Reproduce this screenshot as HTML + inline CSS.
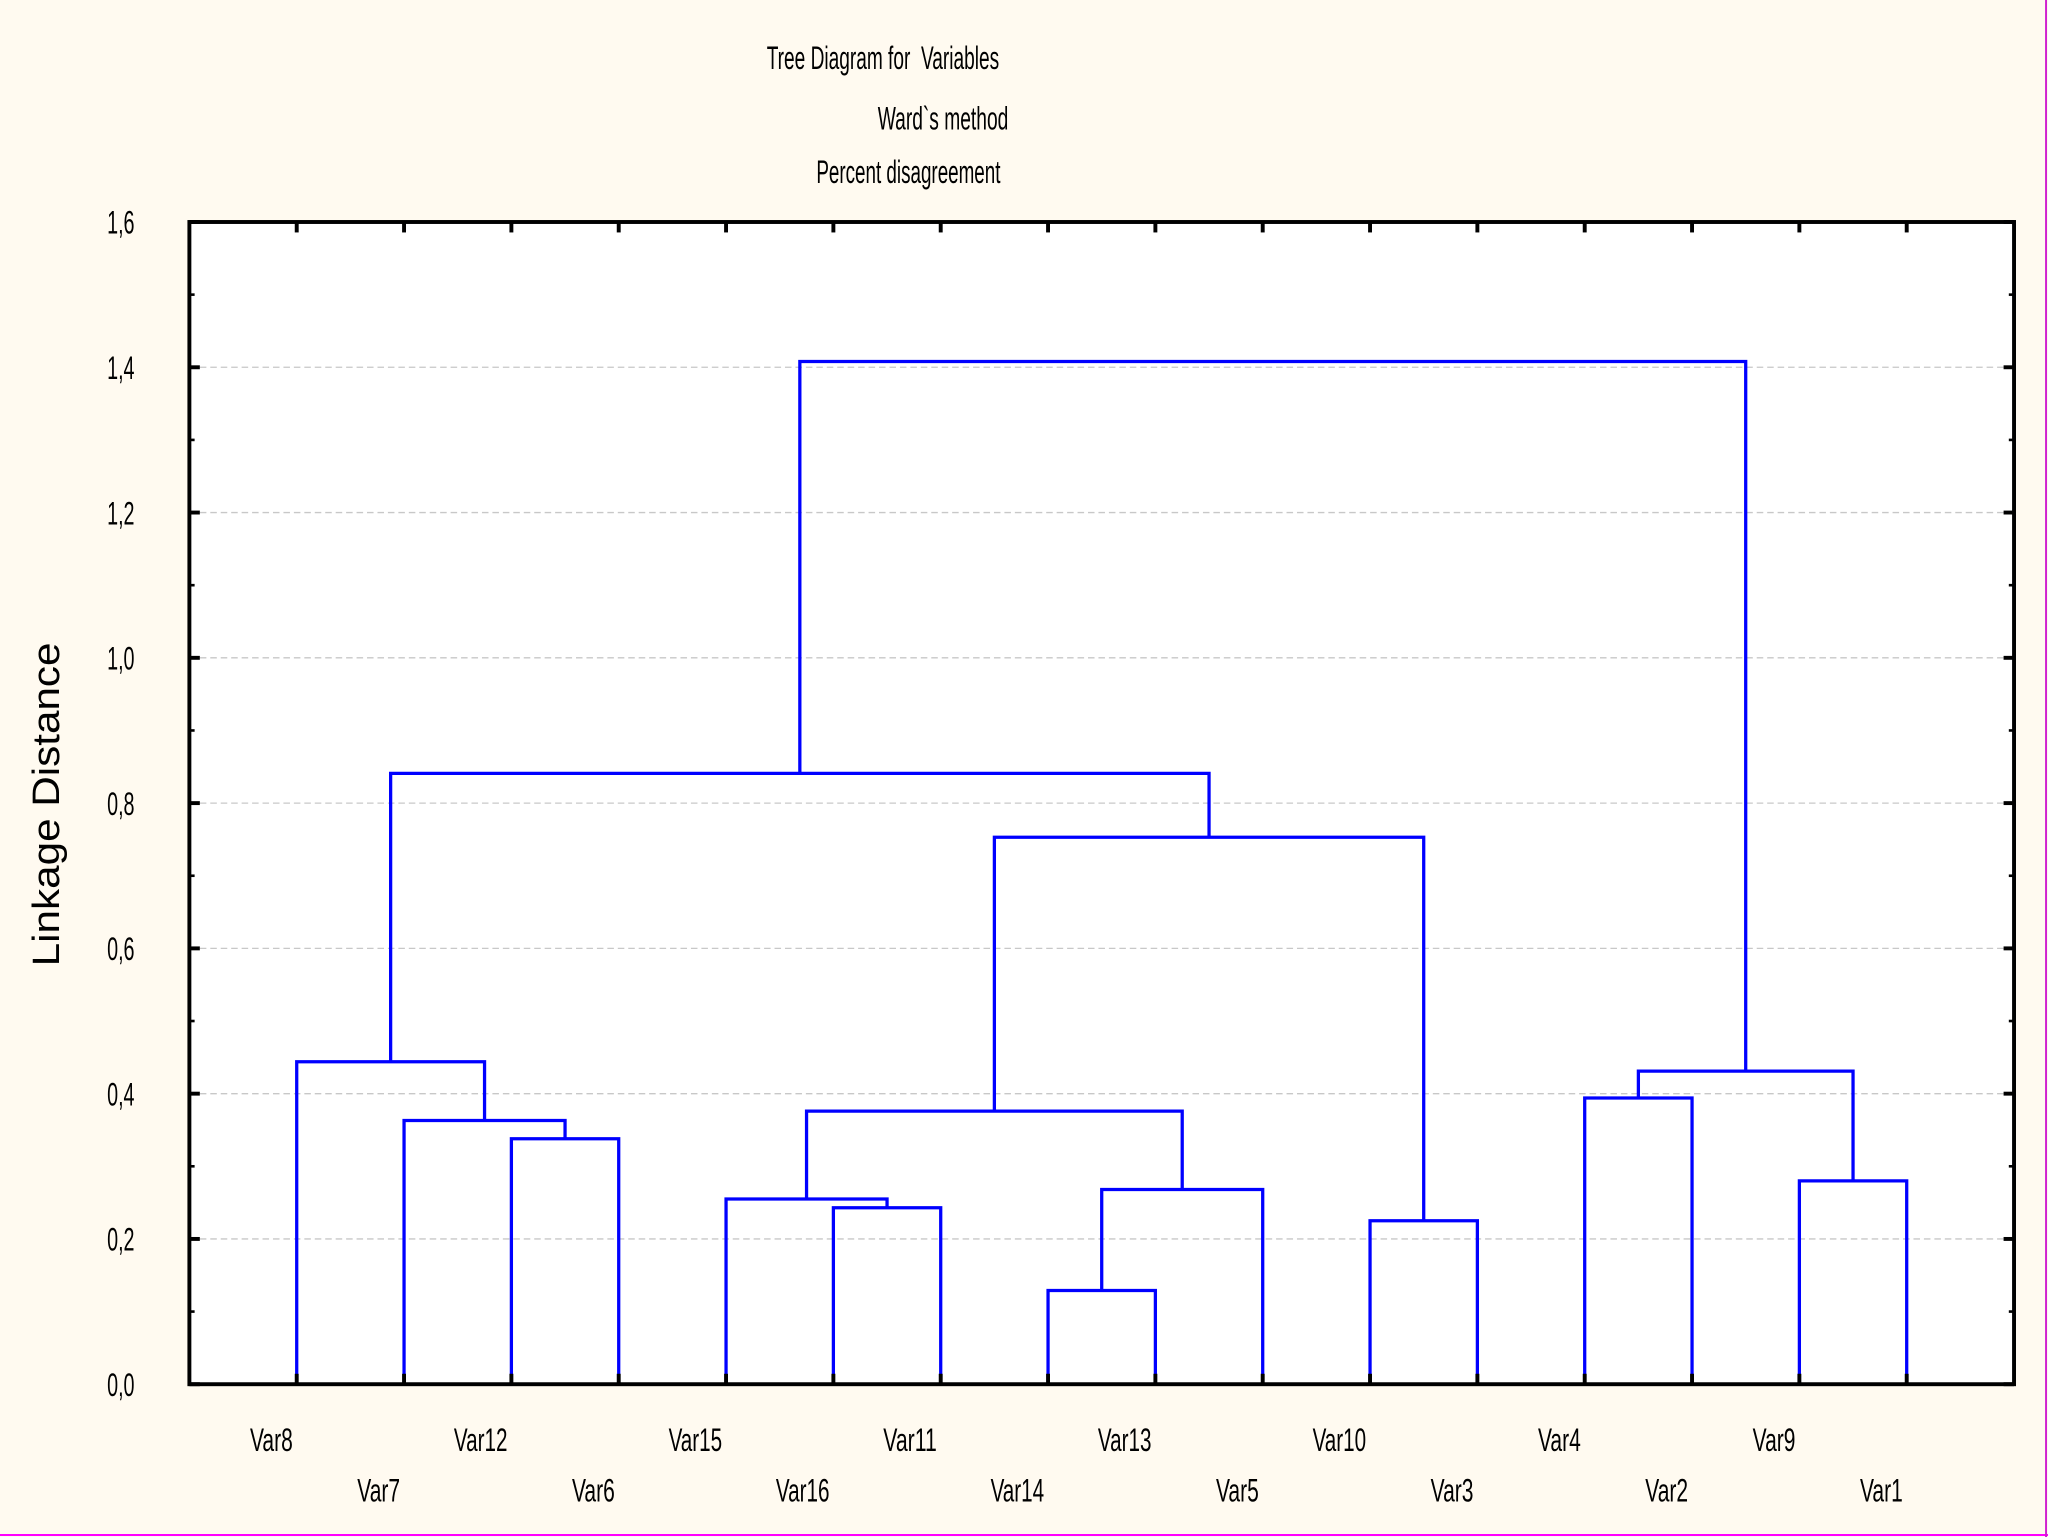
<!DOCTYPE html>
<html><head><meta charset="utf-8"><title>Tree Diagram for Variables</title>
<style>
html,body{margin:0;padding:0;background:#fffaf0;}
svg{display:block;}
text{font-family:"Liberation Sans",sans-serif;fill:#000;}
</style></head>
<body>
<svg id="chart" width="2048" height="1537" viewBox="0 0 1568 1177" preserveAspectRatio="none" xmlns="http://www.w3.org/2000/svg">
  <rect x="0" y="0" width="1568" height="1177" fill="#fffaf0"/>
  <line x1="0" y1="1175.5" x2="1568" y2="1175.5" stroke="#ff00ff" stroke-width="1.5"/>
  <line x1="1566.5" y1="0" x2="1566.5" y2="1177" stroke="#d020d0" stroke-width="1.5"/>
  <g>
    <text x="587" y="53" font-size="25" textLength="178" lengthAdjust="spacingAndGlyphs">Tree Diagram for&#160; Variables</text>
    <text x="672" y="99" font-size="25" textLength="100" lengthAdjust="spacingAndGlyphs">Ward`s method</text>
    <text x="625" y="140" font-size="25" textLength="141" lengthAdjust="spacingAndGlyphs">Percent disagreement</text>
  </g>
  <rect x="145" y="170" width="1397" height="890" fill="#ffffff"/>
  <g id="grid"></g>
  <g id="tree"></g>
  <rect x="145" y="170" width="1397" height="890" fill="none" stroke="#000" stroke-width="3"/>
  <g id="ticks"></g>
  <g id="ylabels"></g>
  <g id="xlabels"></g>
  <text transform="translate(45,616) rotate(-90)" text-anchor="middle" font-size="29" textLength="248" lengthAdjust="spacingAndGlyphs">Linkage Distance</text>
</svg>
<script>
// Data
const leaves = ["Var8","Var7","Var12","Var6","Var15","Var16","Var11","Var14","Var13","Var5","Var10","Var3","Var4","Var2","Var9","Var1"];
// merges: cluster ids — leaf index (0..15) or 16+merge index
const mergeLeft  = [7, 10, 5, 4, 16, 14, 2, 1, 19, 12, 25, 0, 24, 27, 29];
const mergeRight = [8, 11, 6, 18, 9, 15, 3, 22, 20, 13, 21, 23, 17, 28, 26];
const mergeHeight = [0.129, 0.225, 0.243, 0.255, 0.268, 0.280, 0.338, 0.363, 0.376, 0.394, 0.431, 0.444, 0.753, 0.841, 1.408];
const yTicks = [0,0.2,0.4,0.6,0.8,1.0,1.2,1.4,1.6];
const yTickLabels = ["0,0","0,2","0,4","0,6","0,8","1,0","1,2","1,4","1,6"];
</script>
<script>
(function(){
const NS="http://www.w3.org/2000/svg";
const L=145,R=1542,T=170,B=1060,yMax=1.6;
const xScale=i=>L+(i+1)*(R-L)/(leaves.length+1);
const yScale=v=>B-v/yMax*(B-T);
function mk(tag,attrs,parent){const e=document.createElementNS(NS,tag);for(const k in attrs)e.setAttribute(k,attrs[k]);parent.appendChild(e);return e;}
const grid=document.getElementById('grid'),tree=document.getElementById('tree'),ticks=document.getElementById('ticks'),yl=document.getElementById('ylabels'),xl=document.getElementById('xlabels');
yTicks.forEach((v,i)=>{
  const y=yScale(v);
  if(v>0&&v<yMax){
    const g=mk('line',{x1:L,x2:R,y1:y,y2:y,stroke:'#c8c8c8','stroke-width':1,'stroke-dasharray':'5,3'},grid);
    
    
  }
  const t1=mk('line',{x1:L,x2:L+8,y1:y,y2:y,stroke:'#000','stroke-width':3},ticks);
  
  
  const t2=mk('line',{x1:R-8,x2:R,y1:y,y2:y,stroke:'#000','stroke-width':3},ticks);
  
  
  if(i<yTicks.length-1){
    const ym=yScale(v+0.1);
    const m1=mk('line',{x1:L,x2:L+4,y1:ym,y2:ym,stroke:'#000','stroke-width':2},ticks);
    
    
    const m2=mk('line',{x1:R-4,x2:R,y1:ym,y2:ym,stroke:'#000','stroke-width':2},ticks);
    
    
  }
  const tx=mk('text',{x:103,y:y+9,'text-anchor':'end','font-size':25,textLength:21,lengthAdjust:'spacingAndGlyphs'},yl);
  tx.textContent=yTickLabels[i];
  
  
});
const pos=[],hgt=[];
leaves.forEach((n,i)=>{pos[i]=xScale(i);hgt[i]=0;
  const tb=mk('line',{x1:pos[i],x2:pos[i],y1:B-8,y2:B,stroke:'#000','stroke-width':3},ticks);
  
  
  const tt=mk('line',{x1:pos[i],x2:pos[i],y1:T,y2:T+8,stroke:'#000','stroke-width':3},ticks);
  
  
  const lb=mk('text',{x:pos[i]-3,y:(i%2===0?1111:1150),'text-anchor':'end','font-size':25,textLength:n.length*8.2,lengthAdjust:'spacingAndGlyphs'},xl);
  lb.textContent=n;
  
  
});
mergeHeight.forEach((h,k)=>{
  const a=mergeLeft[k],b=mergeRight[k],id=leaves.length+k;
  const xa=pos[a],xb=pos[b],ya=yScale(hgt[a]),yb=yScale(hgt[b]),y=yScale(h);
  const p=mk('path',{d:`M${xa},${ya}V${y}H${xb}V${yb}`,fill:'none',stroke:'#0000ff','stroke-width':2.5},tree);
  
  
  pos[id]=(xa+xb)/2;hgt[id]=h;
});
})();
</script>
</body></html>
